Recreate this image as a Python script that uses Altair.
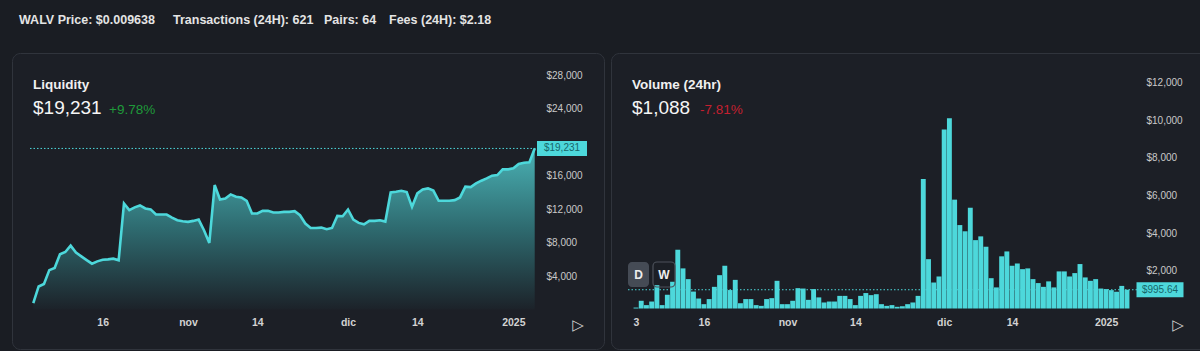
import altair as alt
import pandas as pd

# ---------------- data ----------------
dates = pd.date_range("2024-10-03", periods=95, freq="D")
date_str = [d.strftime("%Y-%m-%dT00:00:00") for d in dates]

liquidity = [760, 2750, 3050, 4700, 4950, 6600, 6870, 7630, 6800, 6350, 5900, 5470, 5750, 5950, 5990, 6070, 5870,
             12660, 11860, 12200, 12420, 12060, 11950, 11340, 11340, 11340, 10980, 10660, 10540, 10460, 10580, 10740, 9460, 7950,
             14860, 13140, 13260, 13740, 13460, 13380, 12980, 11460, 11460, 11780, 11780, 11580, 11580,
             11660, 11660, 11740, 11260, 10260, 9740, 9740, 9780, 9580, 9740, 11180, 11140, 11940, 10740, 10340, 10180,
             10580, 10580, 10660, 10500,
             13980, 14060, 14180, 14020, 12260, 13860, 14340, 14460, 14200, 12980, 12980, 12980, 13060, 13380, 14660,
             14620, 15060, 15380, 15650, 15980, 16050, 16730, 16730, 16850, 17370, 17530, 17570, 19231]

volume = [50, 410, 180, 370, 1240, 180, 730, 1420, 3120, 2130, 1560, 900, 530, 230, 500, 1150, 1770, 2270, 980, 1520,
          280, 500, 500, 180, 140, 500, 550, 1470, 230, 230, 410, 1080, 1060, 460, 1030, 590, 320, 370, 370, 670,
          670, 500, 180, 670, 820, 710, 760,
          230, 140, 180, 90, 120, 230, 320, 670, 6880, 2620, 1380, 1700, 9500, 10100, 5780, 4430, 4100, 5350, 3630,
          3830, 3280, 1610, 1120, 2770, 3030, 2270, 2390, 2090, 2130, 1560, 1350, 1150, 1440, 1120, 1970, 1970, 1700,
          1880, 2360, 1650, 1470, 1560, 1060, 1030, 975, 890, 1200, 995.64]

# $20,000 sits under the price tag in the reference, so it is not drawn
liq_ticks = [4000, 8000, 12000, 16000, 24000, 28000]
vol_ticks = [2000, 4000, 6000, 8000, 10000, 12000]
left_dates = [(2024, 10, 16), (2024, 11, 1), (2024, 11, 14), (2024, 12, 1), (2024, 12, 14), (2025, 1, 1)]
right_dates = [(2024, 10, 3)] + left_dates

header = [("WALV Price: $0.009638", 19), ("Transactions (24H): 621", 173), ("Pairs: 64", 324), ("Fees (24H): $2.18", 389)]

# ---------------- style ----------------
BG = "#1a1d23"
PANEL = "#1c1f26"
BORDER = "#30343c"
CYAN = "#4dd8db"
FONT = "Liberation Sans"
one = pd.DataFrame({"k": [0]})

LBL = ("date(datum.value) == 1 ? (month(datum.value) == 0 ? timeFormat(datum.value, '%Y') : "
       "['ene','feb','mar','abr','may','jun','jul','ago','sep','oct','nov','dic'][month(datum.value)]) : "
       "timeFormat(datum.value, '%-d')")


def dt(t):
    return alt.DateTime(year=t[0], month=t[1], date=t[2])


def rect(x1, x2, y1, y2, fill, stroke=None, radius=0, sw=1):
    kw = dict(fill=fill, cornerRadius=radius)
    if stroke:
        kw.update(stroke=stroke, strokeWidth=sw)
    return alt.Chart(one).mark_rect(**kw).encode(x=alt.value(x1), x2=alt.value(x2), y=alt.value(y1), y2=alt.value(y2))


def text(s, x, y, size, color, weight="normal", font=FONT, align="left", baseline="alphabetic"):
    return alt.Chart(one).mark_text(text=s, fontSize=size, color=color, fontWeight=weight, font=font,
                                    align=align, baseline=baseline).encode(x=alt.value(x), y=alt.value(y))


def xaxis(vals):
    return alt.Axis(orient="bottom", offset=-42, values=[dt(v) for v in vals], labelExpr=LBL, domain=False,
                    ticks=False, grid=False, labelPadding=8, labelFontSize=10.5, labelFontWeight="bold",
                    labelColor="#d2d2d2", labelFont=FONT, labelFlush=False, labelOverlap=False, title=None,
                    zindex=1)


def yaxis(vals, offset):
    return alt.Axis(orient="right", offset=offset, values=vals, format="$,.0f", domain=False, ticks=False,
                    grid=False, labelPadding=6, labelFontSize=10, labelColor="#c9c9c9", labelFont=FONT,
                    labelAlign="left", labelOverlap=False, labelFlush=False, title=None, zindex=1)


# ---------------- left: liquidity ----------------
liq_df = pd.DataFrame({"date": date_str, "liquidity": liquidity})
xl = alt.X("date:T", scale=alt.Scale(domain=[dt((2024, 10, 3)), dt((2025, 1, 5))], range=[33.3, 534.7], nice=False),
           axis=xaxis(left_dates))
yl = alt.Y("liquidity:Q", scale=alt.Scale(domain=[0, 28000], range=[309.5, 75], nice=False),
           axis=yaxis(liq_ticks, -660))

grad = alt.Gradient(gradient="linear", x1=1, x2=1, y1=0, y2=1,
                    stops=[alt.GradientStop(color="#4ab2b5", offset=0),
                           alt.GradientStop(color="#2e6a6f", offset=0.5),
                           alt.GradientStop(color="#1c2229", offset=1)])
area = alt.Chart(liq_df).mark_area(color=grad).encode(x=xl, y=yl)
line = alt.Chart(liq_df).mark_line(color=CYAN, strokeWidth=2.6).encode(x=xl, y=yl)

last_liq = pd.DataFrame({"liquidity": [liquidity[-1]], "lab": ["${:,.0f}".format(liquidity[-1])]})
liq_rule = alt.Chart(last_liq).mark_rule(color=CYAN, strokeDash=[1.5, 2], strokeWidth=1).encode(
    y=yl, x=alt.value(30), x2=alt.value(537))
liq_tag = alt.Chart(last_liq).mark_tick(orient="horizontal", thickness=15, size=50, color=CYAN, opacity=1).encode(
    y=yl, x=alt.value(562))
liq_tagtxt = alt.Chart(last_liq).mark_text(fontSize=10, color="#17666a", font=FONT, baseline="middle").encode(
    y=yl, x=alt.value(562), text="lab:N")
left = alt.layer(area, line, liq_rule, liq_tag, liq_tagtxt)

# ---------------- right: volume ----------------
vol_df = pd.DataFrame({"date": date_str, "volume": volume})
xr = alt.X("date:T", scale=alt.Scale(domain=[dt((2024, 10, 3)), dt((2025, 1, 5))], range=[631, 1132], nice=False),
           axis=xaxis(right_dates))
yr = alt.Y("volume:Q", scale=alt.Scale(domain=[0, 12000], range=[308.5, 82.5], nice=False),
           axis=yaxis(vol_ticks, -60))
bars = alt.Chart(vol_df).mark_bar(size=4.9, color=CYAN).encode(x=xr, y=yr)

last_vol = pd.DataFrame({"volume": [volume[-1]], "lab": ["${:,.2f}".format(volume[-1])]})
vol_rule = alt.Chart(last_vol).mark_rule(color=CYAN, strokeDash=[1.5, 2], strokeWidth=1).encode(
    y=yr, x=alt.value(628), x2=alt.value(1137))
vol_tag = alt.Chart(last_vol).mark_tick(orient="horizontal", thickness=15, size=47, color=CYAN, opacity=1).encode(
    y=yr, x=alt.value(1160))
vol_tagtxt = alt.Chart(last_vol).mark_text(fontSize=10, color="#17666a", font=FONT, baseline="middle").encode(
    y=yr, x=alt.value(1160), text="lab:N")
right = alt.layer(bars, vol_rule, vol_tag, vol_tagtxt)

# ---------------- decorations ----------------
back = [rect(12.5, 604.5, 53.5, 349.5, PANEL, BORDER, 8),
        rect(611.5, 1215, 53.5, 349.5, PANEL, BORDER, 8)]
front = [text(s, x, 24, 12.5, "#e4e4e4", "bold") for s, x in header]
front += [
    text("Liquidity", 33, 88.5, 13.5, "#f0f0f0", "bold"),
    text("$19,231", 33, 114, 19, "#f5f5f5"),
    text("+9.78%", 109, 114, 13.5, "#1f9a3a"),
    text("Volume (24hr)", 632, 88.5, 13.5, "#f0f0f0", "bold"),
    text("$1,088", 632, 114, 19, "#f5f5f5"),
    text("-7.81%", 700, 114, 13.5, "#c42030"),
    rect(628, 649, 262, 287, "#454b55", None, 4),
    rect(653, 675, 262, 287, "transparent", "#4c515a", 4, 1.2),
    text("D", 638.5, 275, 12, "#eeeeee", "bold", align="center", baseline="middle"),
    text("W", 664, 275, 12, "#eeeeee", "bold", align="center", baseline="middle"),
    text("▷", 578, 325, 15, "#d0d0d0", font="DejaVu Sans", align="center", baseline="middle"),
    text("▷", 1178, 325, 15, "#d0d0d0", font="DejaVu Sans", align="center", baseline="middle"),
]

chart = alt.layer(*back, left, right, *front).resolve_scale(x="independent", y="independent").properties(
    width=1200, height=351, background=BG, padding=0, autosize=alt.AutoSizeParams(type="none")
).configure_view(stroke=None)

chart.save("out.html", embed_options={"renderer": "svg", "actions": False})
